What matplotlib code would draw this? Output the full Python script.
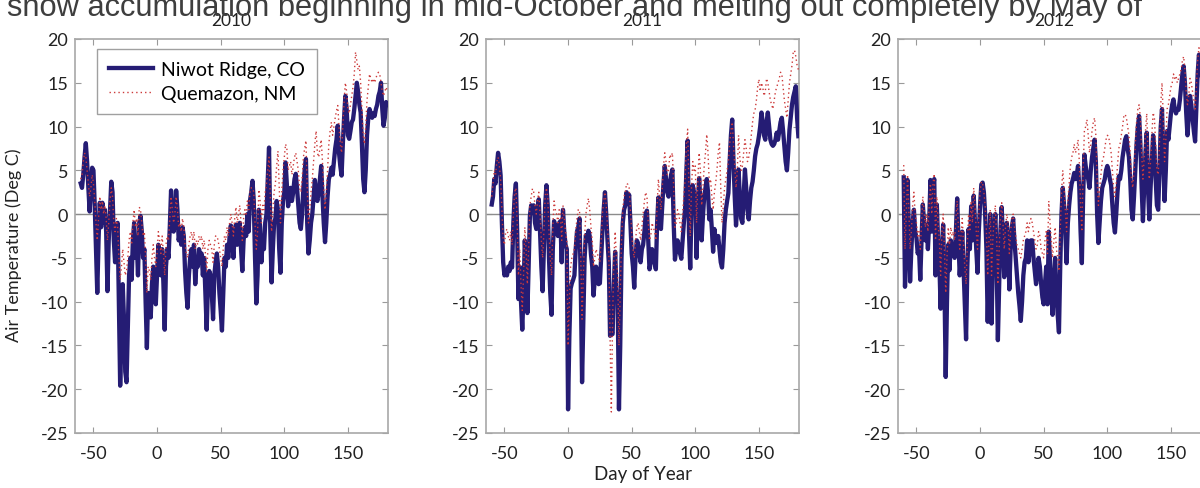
import numpy as np
import matplotlib
matplotlib.use('Agg')
import matplotlib.pyplot as plt

# daily air temperature, first value is day -60 (1 Nov)
first_day = -60
years = ['2010', '2011', '2012']

niwot_2010 = [3.5, 3.0, 4.5, 6.5, 8.1, 6.0, 3.0, 0.3, 3.0, 5.3,
              5.0, 1.0, -4.0, -9.0, -3.0, 1.3, -1.5, 1.3, -1.0, 0.5,
              -2.0, -8.8, -3.0, 0.5, 3.7, 2.5, -3.0, -5.5, -2.0, -1.0,
              -10.0, -19.6, -14.0, -8.0, -12.0, -18.0, -19.2, -13.0, -7.0, -5.0,
              -7.5, -3.0, -1.0, -5.0, -3.0, -7.0, -1.0, -0.2, -2.0, -5.0,
              -4.0, -10.0, -15.3, -9.0, -10.0, -11.8, -8.0, -6.0, -8.0, -10.3,
              -7.0, -3.5, -5.0, -7.0, -4.0, -8.0, -13.2, -6.0, -4.0, -5.0,
              -1.5, 2.7, 0.0, -2.0, -1.0, 2.7, 0.5, -3.0, -2.0, -3.5,
              -1.5, -2.5, -6.5, -9.0, -10.7, -7.0, -5.0, -4.0, -6.0, -3.5,
              -8.0, -5.5, -6.0, -4.0, -5.0, -4.5, -7.0, -5.0, -9.0, -13.2,
              -8.0, -6.5, -7.0, -9.0, -12.0, -7.0, -5.5, -4.5, -6.0, -9.0,
              -11.0, -13.3, -9.0, -5.0, -6.0, -3.5, -5.0, -2.5, -1.3, -3.0,
              -5.0, -2.0, -1.2, -3.5, -2.5, -1.0, -4.0, -6.5, -3.0, -1.5,
              -2.5, 0.0, -2.0, 1.5, 2.5, 3.8, 1.5, -5.0, -10.2, -7.0,
              0.5, -1.5, -5.5, -3.0, -4.0, -1.0, 0.0, 4.0, 7.6, -2.0,
              -7.8, -4.0, -1.0, -0.5, 1.5, 0.5, -4.0, -6.7, -1.0, 1.5,
              2.5, 5.9, 3.5, 0.9, 2.5, 3.0, 1.5, 2.5, 4.0, 4.6,
              3.0, 1.0, -1.0, -1.7, 0.0, 3.0, 5.0, 6.3, -1.0, -4.5,
              -3.0, -1.0, 0.0, 2.0, 3.9, 2.0, 1.5, 2.5, 4.0, 5.5,
              2.0, -1.0, -3.2, -1.0, 2.0, 4.0, 4.5, 5.3, 4.5, 6.0,
              7.5, 8.5, 10.1, 7.0, 5.5, 4.4, 8.0, 11.0, 13.5, 12.0,
              9.0, 8.6, 9.5, 10.5, 10.8, 12.0, 13.5, 15.0, 14.0, 12.5,
              11.6, 8.0, 4.0, 2.5, 5.0, 9.0, 11.0, 12.0, 11.5, 11.0,
              11.5, 11.2, 12.0, 12.5, 13.5, 14.0, 15.0, 12.0, 10.1, 11.0,
              12.8, 12.5]

quemazon_2010 = [4.0, 4.5, 6.0, 7.0, 6.5, 5.0, 3.5, 2.0, 3.0, 4.5,
                 3.5, 1.5, -1.0, -3.0, -0.5, 2.0, 0.5, 1.5, 0.0, 1.0,
                 -0.5, -3.0, -1.0, 1.5, 3.0, 2.0, -1.0, -2.0, -0.5, -1.5,
                 -5.0, -7.5, -6.0, -4.0, -5.5, -7.0, -6.5, -5.0, -3.0, -2.0,
                 -3.5, -1.0, 0.5, -1.5, -0.5, -2.5, 0.8, 0.5, -1.0, -2.5,
                 -2.0, -5.0, -9.0, -6.0, -6.5, -7.5, -5.0, -3.5, -5.0, -6.0,
                 -4.5, -2.0, -3.0, -4.5, -2.5, -4.5, -7.0, -3.5, -2.5, -3.0,
                 -0.5, 2.0, 0.5, -1.0, 0.0, 2.0, 0.5, -1.5, -1.0, -2.0,
                 -0.5, -1.5, -3.5, -4.5, -5.0, -3.5, -2.5, -2.0, -3.0, -2.0,
                 -4.0, -3.0, -3.5, -2.5, -3.0, -2.5, -4.0, -3.0, -4.5, -6.5,
                 -4.0, -3.0, -3.5, -4.0, -5.5, -3.5, -2.5, -2.5, -3.0, -4.0,
                 -5.0, -6.0, -4.0, -2.5, -3.0, -1.5, -2.5, -1.0, 0.0, -1.0,
                 -2.5, -0.5, 0.8, -1.0, 0.0, 1.0, -1.0, -3.0, -0.5, 0.5,
                 0.0, 1.5, 0.5, 2.5, 3.0, 3.0, 2.5, -1.0, -4.0, -2.0,
                 2.8, 1.5, -1.0, 1.0, 0.5, 2.5, 3.5, 5.0, 6.5, 2.0,
                 -2.0, 0.5, 2.5, 3.5, 5.5, 7.2, 3.0, -1.0, 2.5, 5.0,
                 6.5, 8.0, 7.5, 5.0, 5.5, 6.0, 4.5, 5.5, 6.5, 7.0,
                 6.0, 5.0, 3.0, 2.5, 4.0, 6.5, 7.5, 8.4, 3.0, -1.0,
                 0.5, 2.5, 4.0, 6.0, 8.0, 9.5, 7.0, 6.5, 7.5, 8.5,
                 6.0, 3.0, 0.5, 2.5, 5.0, 8.0, 9.5, 10.5, 9.0, 10.0,
                 11.0, 11.8, 12.4, 10.0, 8.0, 7.0, 10.0, 13.0, 15.0, 14.0,
                 12.0, 11.5, 12.5, 13.5, 14.5, 16.0, 18.5, 17.5, 16.5, 16.9,
                 15.0, 12.0, 9.0, 8.0, 10.0, 13.0, 14.5, 16.0, 15.5, 15.0,
                 15.5, 15.0, 15.5, 16.0, 16.2, 16.0, 15.0, 14.0, 13.5, 14.0,
                 14.5, 14.0]

niwot_2011 = [1.1, 2.0, 4.0, 3.5, 5.5, 7.0, 6.0, 4.4, -1.0, -5.5,
              -7.0, -6.5, -7.0, -6.0, -6.5, -5.5, -6.1, -1.0, 2.0, 3.5,
              -2.0, -9.7, -6.0, -10.0, -13.2, -9.0, -3.0, -6.0, -11.3, -6.0,
              -0.2, 1.0, 0.5, 1.0, -1.0, -1.7, 0.5, 1.7, -2.0, -6.0,
              -8.8, -4.0, 1.0, 3.3, 1.0, -5.0, -9.0, -11.5, -4.0, -0.8,
              -1.5, -1.3, -2.5, -1.0, -0.8, -5.5, 0.5, -2.0, -3.5, -4.0,
              -22.3, -14.0, -8.5, -7.9, -7.5, -7.0, -4.0, -2.0, -1.5, -0.5,
              -8.0, -19.2, -12.0, -5.0, -2.4, -3.0, -1.9, -2.5, -4.6, -6.0,
              -9.3, -7.5, -6.0, -7.0, -8.0, -7.9, -5.0, -2.0, 0.5, 2.5,
              0.0, -3.0, -5.5, -13.9, -13.5, -13.7, -8.0, -4.3, -8.5, -10.0,
              -22.3, -15.0, -5.0, -1.0, 0.5, 1.0, 2.5, 1.3, 2.2, -1.0,
              -4.5, -6.0, -8.4, -5.0, -3.0, -3.3, -4.5, -5.5, -4.0, -3.5,
              -2.0, 0.0, 0.4, -3.0, -6.3, -5.5, -4.0, -4.7, -5.5, -6.3,
              -1.0, 1.9, -0.5, -1.7, 1.0, 3.5, 5.5, 4.0, 2.5, 2.0,
              3.5, 4.5, 5.1, -1.0, -5.2, -4.0, -3.0, -3.6, -4.5, -5.1,
              -3.0, -1.0, 0.6, 5.0, 8.4, -2.0, -6.2, 0.5, 3.3, 2.5,
              2.1, -5.0, 1.0, 4.1, 1.5, -3.0, -0.2, 2.0, 3.0, 4.0,
              2.5, -0.6, 0.5, -1.7, -4.3, -1.7, -3.0, -3.3, -2.5, -4.0,
              -5.5, -6.1, -4.0, -1.0, 0.5, 1.5, 2.4, 6.0, 9.0, 10.8,
              6.0, 2.0, -1.3, 1.0, 5.1, 2.0, -0.5, -1.0, 2.0, 5.1,
              3.0, 0.5, -0.6, 1.5, 3.0, 3.7, 5.0, 6.6, 7.5, 8.0,
              8.9, 10.0, 11.6, 10.5, 9.0, 8.5, 10.5, 11.6, 10.0, 8.5,
              8.0, 7.8, 8.0, 8.5, 9.3, 8.5, 9.5, 10.5, 11.0, 9.5,
              7.8, 6.0, 5.0, 7.0, 9.6, 11.0, 12.5, 13.4, 14.0, 14.6,
              11.0, 8.9]

quemazon_2011 = [2.0, 3.5, 5.0, 4.5, 6.0, 6.5, 5.5, 4.0, 0.5, -3.0,
                 -3.5, -2.0, -1.7, -2.5, -3.0, -2.0, -3.5, 0.0, 2.5, 3.0,
                 -1.0, -7.0, -4.0, -8.0, -11.0, -7.0, -1.5, -4.0, -8.0, -4.0,
                 1.0, 2.0, 2.9, 2.5, 1.0, 0.0, 1.5, 2.5, 0.0, -3.0,
                 -5.0, -2.0, 2.0, 3.0, 2.0, -2.0, -5.0, -7.0, -1.5, 1.5,
                 0.5, 0.0, -1.0, 0.5, 0.0, -3.0, 1.0, -0.5, -2.0, -3.0,
                 -15.0, -10.0, -6.0, -5.0, -4.5, -4.0, -2.0, -0.5, 0.5, 0.5,
                 -5.0, -12.0, -7.0, -2.5, 0.0, 1.0, 1.8, 0.5, -1.5, -3.0,
                 -6.0, -5.0, -4.0, -4.5, -5.0, -5.5, -3.0, 0.0, 1.5, 2.5,
                 1.0, -1.5, -4.0, -14.0, -22.6, -12.0, -5.0, -2.0, -5.0, -7.0,
                 -15.0, -9.0, -3.0, 0.5, 2.0, 2.5, 3.5, 3.4, 3.0, 0.5,
                 -2.0, -4.0, -5.0, -3.0, -1.5, -1.0, -2.0, -3.0, -1.5, 0.0,
                 1.5, 2.5, 2.0, -1.0, -3.0, -2.5, -1.0, -1.5, -2.0, -3.0,
                 1.0, 4.0, 2.0, 0.5, 3.0, 5.5, 7.0, 6.0, 4.5, 5.0,
                 6.8, 6.5, 7.0, 3.0, -1.5, -1.0, 0.5, 0.0, -1.0, -2.0,
                 0.0, 2.0, 4.0, 8.0, 9.7, 3.0, -2.5, 3.0, 6.0, 5.0,
                 5.5, -1.0, 4.0, 7.0, 5.0, 1.0, 3.0, 5.5, 7.0, 9.1,
                 7.0, 3.5, 4.0, 2.0, 0.5, 2.5, 3.5, 5.0, 7.0, 8.2,
                 3.0, -1.0, 1.0, 3.0, 4.0, 5.0, 6.0, 8.0, 9.5, 10.5,
                 8.0, 5.5, 3.0, 5.0, 9.0, 6.5, 5.0, 5.5, 7.0, 8.5,
                 7.5, 6.0, 6.5, 7.5, 9.0, 10.5, 11.5, 11.9, 13.0, 14.5,
                 15.4, 14.0, 15.0, 14.5, 13.5, 14.0, 15.5, 15.0, 14.0, 13.0,
                 12.5, 12.0, 13.0, 14.0, 14.5, 15.0, 15.5, 16.2, 16.0, 14.5,
                 13.0, 12.0, 11.0, 13.0, 15.0, 16.0, 17.0, 18.5, 18.7, 18.0,
                 17.0, 16.5]

niwot_2012 = [4.2, -8.3, -3.0, 3.9, -2.0, -7.7, -4.0, -1.0, 0.5, -2.0,
              -2.7, -4.5, -3.9, -7.5, -3.0, 1.1, -1.0, -3.0, -1.2, -4.0,
              -1.0, 3.9, -2.0, 3.3, 4.0, -7.0, 1.1, -3.0, -5.5, -10.8,
              -4.0, -1.2, -8.0, -18.6, -10.0, -3.5, -6.4, -3.0, -4.0, -3.5,
              -5.0, -2.0, 1.8, -3.0, -7.0, -4.7, -2.0, -6.0, -10.0, -14.3,
              -6.0, -1.7, -4.0, 0.9, -3.0, 2.1, -1.0, -4.0, -6.7, -2.0,
              1.0, 3.4, 3.6, 2.5, 0.0, -4.0, -12.3, -6.0, 0.0, -12.5,
              -6.0, -2.0, 0.0, -5.0, -14.4, -8.0, -2.0, 0.8, -3.0, -7.2,
              -3.0, -1.0, -3.0, -8.6, -4.0, -1.5, -0.5, -3.0, -5.0, -7.0,
              -9.0, -10.5, -12.2, -10.0, -7.0, -5.5, -5.0, -3.0, -5.5, -4.0,
              -3.0, -3.0, -5.0, -6.5, -8.0, -7.0, -5.0, -6.0, -8.0, -9.5,
              -10.3, -8.0, -6.0, -10.3, -2.0, -5.5, -9.0, -11.5, -8.0, -5.0,
              -9.0, -11.5, -13.5, -6.0, 0.0, 3.0, 1.0, -2.0, -5.6, -1.0,
              1.0, 2.5, 3.5, 4.0, 4.7, 4.0, 4.5, 5.5, 3.0, -2.0,
              -5.6, 2.0, 6.8, 5.5, 4.5, 4.0, 3.0, 5.0, 6.5, 7.5,
              8.5, 6.0, 0.0, -3.3, -1.0, 1.5, 3.0, 3.5, 4.0, 5.0,
              5.5, 5.0, 4.0, 3.3, 1.0, -1.0, -2.1, 0.0, 2.5, 4.3,
              4.0, 5.0, 6.5, 7.5, 8.5, 8.9, 7.5, 6.5, 4.0, 0.5,
              -0.6, 2.0, 5.0, 8.0, 10.0, 11.2, 8.0, 3.0, -0.8, 3.0,
              7.0, 9.3, 3.0, -0.6, 3.0, 6.0, 9.0, 7.5, 4.0, 1.0,
              0.5, 5.0, 10.0, 12.0, 6.0, 1.5, 5.0, 9.5, 8.5, 10.0,
              11.5, 12.5, 13.1, 12.0, 11.5, 12.0, 11.9, 13.0, 14.5, 16.0,
              16.9, 15.0, 11.6, 9.0, 11.0, 13.5, 12.5, 11.0, 9.5, 8.3,
              12.0, 16.0, 18.2, 17.5, 15.0, 14.0, 15.0, 16.0, 15.5, 14.0,
              14.5, 15.0]

quemazon_2012 = [5.6, -4.0, 0.0, 4.5, 0.5, -4.0, -2.0, 1.0, 2.5, 0.0,
                 -1.0, -2.5, -2.0, -4.0, -1.0, 2.0, 0.5, -1.5, 0.0, -2.0,
                 1.0, 3.5, 0.0, 3.5, 4.6, -3.0, 2.0, -1.0, -3.0, -7.0,
                 -2.0, 0.0, -4.0, -9.0, -5.0, -1.5, -3.5, -1.5, -2.5, -2.0,
                 -3.0, -0.5, 1.5, -1.5, -4.0, -2.5, -0.5, -3.5, -6.0, -8.0,
                 -3.5, 0.0, -2.0, 1.5, -1.0, 3.0, 1.0, -2.0, -4.0, 0.0,
                 2.5, 3.7, 3.5, 2.5, 1.0, -2.0, -7.0, -3.0, 0.5, -7.0,
                 -3.0, -0.5, 1.0, -2.5, -8.0, -4.0, -0.5, 1.3, -1.0, -4.0,
                 -1.5, 0.0, -1.0, -4.5, -2.0, -0.5, 0.0, -1.5, -2.5, -3.5,
                 -4.0, -4.5, -5.0, -4.0, -3.0, -2.5, -2.0, -1.0, -2.0, -1.0,
                 -0.5, -1.0, -2.0, -3.0, -4.0, -3.5, -2.0, -2.5, -4.0, -4.5,
                 -5.0, -3.0, -2.0, -4.5, 1.5, -1.0, -3.0, -5.0, -3.0, -1.5,
                 -4.0, -5.0, -6.5, -2.0, 2.5, 5.0, 3.0, 0.5, -2.0, 1.5,
                 3.5, 5.5, 6.5, 7.0, 8.0, 7.0, 7.5, 8.5, 6.0, 1.0,
                 -2.0, 5.0, 9.5, 10.0, 10.8, 9.0, 7.0, 8.0, 9.5, 10.5,
                 11.0, 9.0, 4.0, 1.0, 3.0, 4.5, 6.0, 6.5, 7.5, 8.5,
                 9.0, 8.9, 8.0, 7.0, 5.0, 3.0, 2.0, 3.5, 5.5, 7.5,
                 8.0, 9.0, 10.0, 11.2, 11.4, 11.0, 10.0, 9.0, 7.0, 4.0,
                 3.0, 5.0, 8.0, 10.5, 12.0, 12.5, 11.0, 7.0, 4.0, 6.5,
                 9.5, 11.5, 7.0, 4.0, 6.0, 9.0, 11.6, 11.0, 8.0, 5.0,
                 4.5, 8.0, 12.5, 15.0, 11.0, 6.0, 8.5, 12.0, 12.5, 13.5,
                 14.5, 15.0, 16.0, 15.5, 15.8, 15.0, 15.5, 16.0, 16.5, 17.5,
                 18.0, 16.5, 14.0, 12.5, 13.5, 15.5, 15.0, 14.0, 13.0, 12.0,
                 14.5, 17.5, 19.0, 18.5, 17.0, 16.0, 17.0, 18.0, 17.5, 16.5,
                 16.5, 17.0]

niwot = [niwot_2010, niwot_2011, niwot_2012]
quemazon = [quemazon_2010, quemazon_2011, quemazon_2012]

plt.rcParams['font.family'] = ['Lato', 'DejaVu Sans']
plt.rcParams['axes.unicode_minus'] = False

W, H = 1200, 489
fig = plt.figure(figsize=(W / 100, H / 100), dpi=100)

fig.text(7 / W, 1 - 16 / H,
         'snow accumulation beginning in mid-October and melting out completely by May of',
         fontsize=22.2, family=['Liberation Sans', 'DejaVu Sans'], color='#3e3e3e',
         ha='left', va='baseline')

navy = '#251c74'
red = '#cc3a3a'
lefts = [75, 486, 898]

for i in range(3):
    ax = fig.add_axes([lefts[i] / W, (H - 434) / H, 313 / W, 394 / H])
    d1 = np.arange(first_day, first_day + len(niwot[i]))
    d2 = np.arange(first_day, first_day + len(quemazon[i]))
    ax.plot(d1, niwot[i], color=navy, lw=3.1, label='Niwot Ridge, CO', zorder=3)
    ax.plot(d2, quemazon[i], color=red, lw=1.0, ls=(0, (1, 2.2)),
            label='Quemazon, NM', zorder=4)
    ax.axhline(0, color='#8c8c8c', lw=1, zorder=2)

    ax.set_xlim(-64.5, 181.5)
    ax.set_ylim(-25, 20)
    ax.set_xticks([-50, 0, 50, 100, 150])
    ax.set_yticks(range(-25, 21, 5))
    ax.tick_params(direction='in', top=True, right=True, length=4,
                   color='#9a9a9a', labelsize=13, labelcolor='#222222')
    ax.tick_params(axis='x', pad=9)
    ax.tick_params(axis='y', pad=5)
    for s in ax.spines.values():
        s.set_color('#a8a8a8')
        s.set_linewidth(1.2)
    ax.set_title(years[i], fontsize=12.5, pad=10, color='#222222')

    if i == 0:
        ax.set_ylabel('Air Temperature (Deg C)', fontsize=13, color='#222222')
        ax.yaxis.set_label_coords(-0.169, 0.48)
        leg = ax.legend(loc='upper left', bbox_to_anchor=(0.07, 0.975), fontsize=14,
                        fancybox=False, edgecolor='#888888', handlelength=2.3,
                        borderpad=0.6, labelspacing=0.4, handletextpad=0.4,
                        borderaxespad=0)
        leg.get_frame().set_linewidth(1.0)
    if i == 1:
        ax.set_xlabel('Day of Year', fontsize=13.5, color='#222222')
        ax.xaxis.set_label_coords(0.5, -0.081)

fig.savefig('out.png', dpi=100)
